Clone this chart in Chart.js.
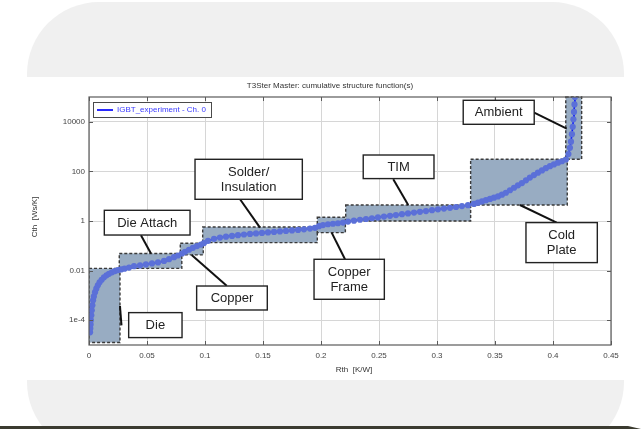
<!DOCTYPE html>
<html>
<head>
<meta charset="utf-8">
<script src="https://cdn.jsdelivr.net/npm/chart.js@4.4.1/dist/chart.umd.min.js"></script>
<style>
  html, body { margin: 0; padding: 0; background: #ffffff; }
  canvas { display: block; }
</style>
</head>
<body>
<canvas id="sf" width="641" height="429"></canvas>
<script>
// Cumulative structure function of the IGBT measurement (Rth in K/W, Cth in Ws/K)
const rth = [
  0.0009, 0.0011, 0.0014, 0.0016, 0.0020, 0.0024, 0.0029, 0.0035, 0.0042, 0.0052,
  0.0063, 0.0076, 0.0091, 0.0109, 0.0129, 0.0151, 0.0172, 0.0198, 0.0224, 0.0250,
  0.0276, 0.0306, 0.0345, 0.0388, 0.0440, 0.0491, 0.0543, 0.0595, 0.0647, 0.0690,
  0.0733, 0.0767, 0.0802,
  0.0828, 0.0862, 0.0896, 0.0931, 0.0965, 0.0991,
  0.1026, 0.1078, 0.1129, 0.1181, 0.1233, 0.1284, 0.1336, 0.1388, 0.1440, 0.1491,
  0.1543, 0.1595, 0.1646, 0.1698, 0.1750, 0.1802, 0.1853, 0.1905, 0.1948,
  0.1983, 0.2017, 0.2060, 0.2103, 0.2146, 0.2190,
  0.2233, 0.2284, 0.2336, 0.2388, 0.2439, 0.2491, 0.2543, 0.2595, 0.2646, 0.2698,
  0.2750, 0.2802, 0.2853, 0.2905, 0.2957, 0.3008, 0.3060, 0.3112, 0.3164, 0.3215, 0.3267,
  0.3319, 0.3353, 0.3388, 0.3422, 0.3457, 0.3491, 0.3526, 0.3560, 0.3594, 0.3629,
  0.3664, 0.3698, 0.3732, 0.3767, 0.3801, 0.3836, 0.3870, 0.3905, 0.3939, 0.3974,
  0.4008, 0.4043, 0.4077, 0.4111,
  0.4133, 0.4146, 0.4155, 0.4163, 0.4170, 0.4176, 0.4181, 0.4185, 0.4189, 0.4193
];
const cth = [
  3.24e-5, 4.68e-5, 6.76e-5, 1.0e-4, 1.58e-4, 2.51e-4, 3.98e-4, 6.31e-4, 9.12e-4, 1.35e-3,
  1.86e-3, 2.57e-3, 3.39e-3, 4.27e-3, 5.37e-3, 6.46e-3, 7.41e-3, 8.51e-3, 9.55e-3, 0.0105,
  0.0112, 0.0120, 0.0132, 0.0151, 0.0162, 0.0178, 0.0195, 0.0214, 0.0245, 0.0288,
  0.0347, 0.0407, 0.0490,
  0.0575, 0.0692, 0.0832, 0.0977, 0.112, 0.129,
  0.158, 0.191, 0.214, 0.234, 0.251, 0.269, 0.285, 0.302, 0.316, 0.331,
  0.347, 0.363, 0.380, 0.398, 0.417, 0.437, 0.462, 0.495, 0.531,
  0.617, 0.684, 0.741, 0.776, 0.813, 0.861,
  0.944, 1.035, 1.122, 1.202, 1.288, 1.396, 1.514, 1.622, 1.738, 1.884,
  2.018, 2.188, 2.344, 2.512, 2.723, 2.951, 3.162, 3.388, 3.673, 3.981, 4.365,
  4.898, 5.495, 6.166, 6.918, 7.762, 8.710, 9.772, 11.48, 13.80, 17.38,
  21.88, 27.54, 33.88, 43.65, 56.23, 70.79, 89.13, 109.6, 134.9, 162.2,
  190.5, 223.9, 257.0, 302.0,
  501, 891, 1585, 3162, 6310, 12590, 25120, 50120, 100000, 199500
];

const xTickValues = [0, 0.05, 0.1, 0.15, 0.2, 0.25, 0.3, 0.35, 0.4, 0.45];
const xTickLabels = ['0', '0.05', '0.1', '0.15', '0.2', '0.25', '0.3', '0.35', '0.4', '0.45'];
const yTickValues = [1e-4, 1e-2, 1, 100, 10000];
const yTickLabels = ['1e-4', '0.01', '1', '100', '10000'];

const chartTitle = 'T3Ster Master: cumulative structure function(s)';
const xTitle = 'Rth  [K/W]';
const yTitle = 'Cth  [Ws/K]';
const seriesName = 'IGBT_experiment - Ch. 0';

// Layer regions of the heat-flow path, in Rth / Cth ranges
const regionNames = ['Die', 'Die Attach', 'Copper', 'Solder/Insulation', 'Copper Frame', 'TIM', 'Cold Plate', 'Ambient'];
const regionRth = [[0, 0.0267], [0.0261, 0.0800], [0.0787, 0.0985], [0.0980, 0.1968],
                   [0.1968, 0.2210], [0.2213, 0.3290], [0.3290, 0.4123], [0.4110, 0.4247]];
const regionCth = [[1.26e-5, 0.0123], [0.0123, 0.049], [0.043, 0.126], [0.134, 0.57],
                   [0.34, 1.41], [1.0, 4.4], [4.4, 309], [309, 1e5]];

// Callout boxes: text, box extent (Rth, Cth) and leader line ends
const callouts = [
  { lines: ['Die Attach'], x: [0.0132, 0.0871], y: [0.272, 2.70], from: [0.0448, 0.265], to: [0.0534, 0.049] },
  { lines: ['Solder/', 'Insulation'], x: [0.0914, 0.1839], y: [7.5, 307.6], from: [0.1302, 7.5], to: [0.1474, 0.542] },
  { lines: ['TIM'], x: [0.2364, 0.2974], y: [51.3, 458], from: [0.2623, 48], to: [0.2752, 4.42] },
  { lines: ['Ambient'], x: [0.3226, 0.3838], y: [7930, 73600], from: [0.3838, 23500], to: [0.4118, 5320] },
  { lines: ['Die'], x: [0.0342, 0.0802], y: [1.99e-5, 2.02e-4], from: [0.0267, 3.74e-4], to: [0.0280, 6.2e-5] },
  { lines: ['Copper'], x: [0.0928, 0.1537], y: [2.58e-4, 2.39e-3], from: [0.1187, 2.45e-3], to: [0.0885, 0.0426] },
  { lines: ['Copper', 'Frame'], x: [0.1940, 0.2546], y: [6.97e-4, 0.0286], from: [0.2207, 0.0286], to: [0.2092, 0.34] },
  { lines: ['Cold', 'Plate'], x: [0.3767, 0.4382], y: [0.0210, 0.862], from: [0.3715, 4.42], to: [0.4032, 0.862] }
];

const SMALL = '8px "Liberation Sans", Arial, sans-serif';
const LABEL = '13px "Liberation Sans", Arial, sans-serif';

const pagePlugin = {
  id: 'page',
  beforeDraw(chart) {
    const c = chart.ctx;
    const W = chart.width, H = chart.height;
    c.save();
    c.fillStyle = '#ffffff';
    c.fillRect(0, 0, W, H);
    // grey rounded card behind the figure
    c.fillStyle = '#f0f0f0';
    c.beginPath();
    c.roundRect(27, 2, 597, 452, 72);
    c.fill();
    // white band holding the plot
    c.fillStyle = '#ffffff';
    c.fillRect(0, 77, W, 303);
    // dark strip along the bottom
    c.fillStyle = '#3b3b30';
    c.beginPath();
    c.moveTo(0, 426);
    c.lineTo(628, 426);
    c.lineTo(641, 429);
    c.lineTo(0, 429);
    c.closePath();
    c.fill();
    c.restore();
  },
  beforeDatasetsDraw(chart) {
    const c = chart.ctx, xs = chart.scales.x, ys = chart.scales.y, a = chart.chartArea;
    c.save();
    c.beginPath();
    c.rect(a.left, a.top - 1, a.right - a.left, a.bottom - a.top + 2);
    c.clip();
    regionNames.forEach((n, i) => {
      const x1 = xs.getPixelForValue(regionRth[i][0]);
      const x2 = xs.getPixelForValue(regionRth[i][1]);
      const y1 = ys.getPixelForValue(regionCth[i][1]);
      const y2 = ys.getPixelForValue(regionCth[i][0]);
      c.fillStyle = '#98acc2';
      c.fillRect(x1, y1, x2 - x1, y2 - y1);
      c.setLineDash([3, 2]);
      c.lineWidth = 1.4;
      c.strokeStyle = '#3a3a3a';
      c.strokeRect(x1, y1, x2 - x1, y2 - y1);
    });
    c.restore();
  },
  afterDatasetsDraw(chart) {
    const c = chart.ctx, xs = chart.scales.x, ys = chart.scales.y, a = chart.chartArea;
    c.save();
    // plot frame
    c.strokeStyle = '#5a5a5a';
    c.lineWidth = 1.2;
    c.strokeRect(a.left, a.top, a.right - a.left, a.bottom - a.top);
    // inner tick marks
    c.lineWidth = 1;
    c.beginPath();
    xTickValues.forEach(v => {
      const px = Math.round(xs.getPixelForValue(v)) + 0.5;
      c.moveTo(px, a.bottom); c.lineTo(px, a.bottom - 4);
      c.moveTo(px, a.top); c.lineTo(px, a.top + 4);
    });
    yTickValues.forEach(v => {
      const py = Math.round(ys.getPixelForValue(v)) + 0.5;
      c.moveTo(a.left, py); c.lineTo(a.left + 4, py);
      c.moveTo(a.right, py); c.lineTo(a.right - 4, py);
    });
    c.stroke();

    // leader lines
    c.strokeStyle = '#111111';
    c.lineWidth = 2;
    callouts.forEach(k => {
      c.beginPath();
      c.moveTo(xs.getPixelForValue(k.from[0]), ys.getPixelForValue(k.from[1]));
      c.lineTo(xs.getPixelForValue(k.to[0]), ys.getPixelForValue(k.to[1]));
      c.stroke();
    });
    // callout boxes
    callouts.forEach(k => {
      const x1 = xs.getPixelForValue(k.x[0]);
      const x2 = xs.getPixelForValue(k.x[1]);
      const y1 = ys.getPixelForValue(k.y[1]);
      const y2 = ys.getPixelForValue(k.y[0]);
      c.fillStyle = '#ffffff';
      c.fillRect(x1, y1, x2 - x1, y2 - y1);
      c.strokeStyle = '#222222';
      c.lineWidth = 1.4;
      c.strokeRect(x1, y1, x2 - x1, y2 - y1);
      c.fillStyle = '#222222';
      c.font = LABEL;
      c.textAlign = 'center';
      c.textBaseline = 'middle';
      const cx = (x1 + x2) / 2, cy = (y1 + y2) / 2;
      const lh = 15.3;
      k.lines.forEach((t, j) => {
        c.fillText(t, cx, cy + (j - (k.lines.length - 1) / 2) * lh + 0.5);
      });
    });

    // legend
    const lx = a.left + 4, ly = a.top + 5;
    c.fillStyle = '#ffffff';
    c.fillRect(lx, ly, 118, 15);
    c.strokeStyle = '#4a4a4a';
    c.lineWidth = 1;
    c.strokeRect(lx + 0.5, ly + 0.5, 118, 15);
    c.strokeStyle = '#2a2aff';
    c.lineWidth = 2;
    c.beginPath();
    c.moveTo(lx + 4, ly + 8); c.lineTo(lx + 20, ly + 8);
    c.stroke();
    c.fillStyle = '#3a3aff';
    c.font = SMALL;
    c.textAlign = 'left';
    c.textBaseline = 'middle';
    c.fillText(seriesName, lx + 24, ly + 8);

    // titles
    c.fillStyle = '#333333';
    c.font = SMALL;
    c.textAlign = 'center';
    c.fillText(chartTitle, 330, 86);
    c.fillText(xTitle, (a.left + a.right) / 2 + 4, 370);
    c.save();
    c.translate(35, (a.top + a.bottom) / 2 - 4);
    c.rotate(-Math.PI / 2);
    c.fillText(yTitle, 0, 0);
    c.restore();
    c.restore();
  }
};

new Chart(document.getElementById('sf'), {
  type: 'scatter',
  data: {
    datasets: [{
      label: seriesName,
      data: rth.map((r, i) => ({ x: r, y: cth[i] })),
      showLine: true,
      borderColor: '#0a16ff',
      borderWidth: 1.6,
      pointRadius: 3.1,
      pointBackgroundColor: '#5b70d8',
      pointBorderWidth: 0,
      pointHoverRadius: 3.1,
      tension: 0
    }]
  },
  options: {
    responsive: false,
    animation: false,
    events: [],
    layout: { padding: { top: 97, right: 30, left: 0, bottom: 0 } },
    plugins: { legend: { display: false }, title: { display: false }, tooltip: { enabled: false } },
    scales: {
      x: {
        type: 'linear',
        min: 0, max: 0.45,
        afterBuildTicks: s => { s.ticks = xTickValues.map(v => ({ value: v })); },
        afterFit: s => { s.height = 84; },
        ticks: {
          callback: (v) => xTickLabels[xTickValues.findIndex(t => Math.abs(t - v) < 1e-9)],
          font: { family: '"Liberation Sans", Arial, sans-serif', size: 8 },
          color: '#444444',
          padding: 6,
          maxRotation: 0,
          autoSkip: false
        },
        grid: { color: '#d6d6d6', lineWidth: 1, drawTicks: false },
        border: { display: false }
      },
      y: {
        type: 'logarithmic',
        min: 1e-5, max: 1e5,
        afterBuildTicks: s => { s.ticks = yTickValues.map(v => ({ value: v })); },
        afterFit: s => { s.width = 89; },
        ticks: {
          callback: (v) => yTickLabels[yTickValues.findIndex(t => Math.abs(Math.log10(t) - Math.log10(v)) < 1e-6)],
          font: { family: '"Liberation Sans", Arial, sans-serif', size: 8 },
          color: '#444444',
          padding: 4,
          autoSkip: false
        },
        grid: { color: '#d6d6d6', lineWidth: 1, drawTicks: false },
        border: { display: false }
      }
    }
  },
  plugins: [pagePlugin]
});
</script>
</body>
</html>
